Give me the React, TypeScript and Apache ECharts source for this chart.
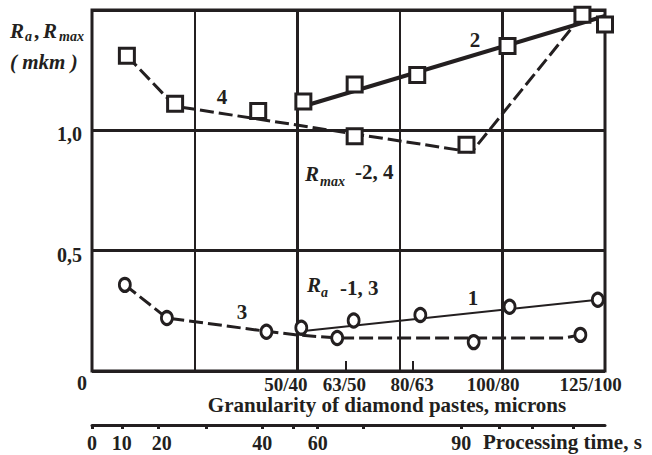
import React, { useEffect, useRef } from 'react';
import * as echarts from 'echarts';

const INK = '#231f20';
const FONT = '"Liberation Serif", "Times New Roman", serif';

// Granularity axis (position in column units, 0..5)
const granLabels = ['50/40', '63/50', '80/63', '100/80', '125/100'];
const granLabelPos = [1.89, 2.46, 3.12, 3.91, 4.86];
const granTickPos = [2.47, 3.13];

// Processing time axis
const timeLabels = ['0', '10', '20', '40', '60', '90'];
const timeLabelPos = [0, 0.29, 0.68, 1.66, 2.2, 3.6];
const timeTickPos = [0, 0.29, 0.65, 1.11, 1.66, 1.96, 2.2, 2.64, 3.6, 3.97, 4.29, 4.69];

// Curve 2 (Rmax, solid)
const curve2Line = [[2.06, 1.1], [5.0, 1.475]];
const curve2Points = [[2.06, 1.12], [2.56, 1.19], [3.17, 1.23], [4.05, 1.35], [5.0, 1.44]];
// Curve 4 (Rmax, dashed)
const curve4Line = [[0.34, 1.31], [0.81, 1.1], [3.7, 0.91], [4.78, 1.48]];
const curve4Points = [[0.34, 1.31], [0.81, 1.11], [1.62, 1.08], [2.56, 0.975], [3.65, 0.94], [4.78, 1.48]];
// Curve 1 (Ra, solid)
const curve1Line = [[2.04, 0.165], [4.93, 0.296]];
const curve1Points = [[2.04, 0.18], [2.55, 0.21], [3.2, 0.233], [4.07, 0.267], [4.93, 0.296]];
// Curve 3 (Ra, dashed)
const curve3Line = [[0.32, 0.358], [0.73, 0.22], [1.7, 0.165], [2.0, 0.15], [2.39, 0.137], [4.6, 0.137], [4.76, 0.15]];
const curve3Points = [[0.32, 0.358], [0.73, 0.22], [1.7, 0.163], [2.39, 0.137], [3.72, 0.12], [4.76, 0.15]];

const nearest = (arr: number[], v: number) =>
  arr.reduce((bi, x, i) => (Math.abs(x - v) < Math.abs(arr[bi] - v) ? i : bi), 0);

const txt = (text: string, x: number, y: number, o: any = {}) => ({
  type: 'text',
  x,
  y,
  silent: true,
  style: {
    text,
    fill: INK,
    fontFamily: FONT,
    fontWeight: 'bold',
    fontSize: o.size || 20,
    fontStyle: o.italic ? 'italic' : 'normal',
    align: o.align || 'left',
    textAlign: o.align || 'left',
    verticalAlign: 'middle',
    textVerticalAlign: 'middle',
  },
});

const markerStyle = { color: '#fff', borderColor: INK, borderWidth: 3, opacity: 1 };

const option: any = {
  animation: false,
  backgroundColor: '#fff',
  grid: [
    { left: 92, top: 10, width: 513, height: 361, show: true, borderColor: INK, borderWidth: 3, backgroundColor: 'transparent' },
    { left: 92, top: 424, width: 513, height: 1, show: false },
  ],
  xAxis: [
    {
      type: 'value', gridIndex: 0, min: 0, max: 5, interval: 1, position: 'bottom',
      axisLine: { show: false }, axisTick: { show: false }, axisLabel: { show: false },
      splitLine: { show: true, lineStyle: { color: INK, width: 2 } },
    },
    {
      type: 'value', gridIndex: 0, min: 0, max: 5, position: 'bottom',
      axisLine: { show: false, onZero: false },
      axisTick: { show: true, inside: true, length: 10, customValues: granTickPos, lineStyle: { color: INK, width: 2 } },
      splitLine: { show: false },
      axisLabel: {
        show: true, customValues: granLabelPos, margin: 4,
        color: INK, fontFamily: FONT, fontWeight: 'bold', fontSize: 19,
        formatter: (v: number) => granLabels[nearest(granLabelPos, v)],
      },
    },
    {
      type: 'value', gridIndex: 1, min: 0, max: 5, position: 'bottom',
      axisLine: { show: true, onZero: false, lineStyle: { color: INK, width: 3 } },
      axisTick: { show: true, length: 4, customValues: timeTickPos, lineStyle: { color: INK, width: 3 } },
      splitLine: { show: false },
      axisLabel: {
        show: true, customValues: timeLabelPos, margin: 8,
        color: INK, fontFamily: FONT, fontWeight: 'bold', fontSize: 20,
        formatter: (v: number) => timeLabels[nearest(timeLabelPos, v)],
      },
    },
  ],
  yAxis: [
    {
      type: 'value', gridIndex: 0, min: 0, max: 1.5, interval: 0.5,
      axisLine: { show: false }, axisTick: { show: false },
      splitLine: { show: true, lineStyle: { color: INK, width: 3 } },
      axisLabel: {
        show: true, margin: 5, color: INK, fontFamily: FONT, fontWeight: 'bold', fontSize: 20,
        formatter: (v: number) => {
          if (v === 0) return '{z|0}';
          if (v > 1.4) return '';
          return '{n|' + v.toFixed(1).replace('.', ',') + '}';
        },
        rich: {
          z: { padding: [24, 0, 0, 0], color: INK, fontFamily: FONT, fontWeight: 'bold', fontSize: 20 },
          n: { padding: [8, 5, 0, 0], color: INK, fontFamily: FONT, fontWeight: 'bold', fontSize: 20 },
        },
      },
    },
    { type: 'value', gridIndex: 1, min: 0, max: 1, show: false },
  ],
  series: [
    {
      type: 'line', name: 'curve2', data: curve2Line, symbol: 'none', z: 3,
      lineStyle: { color: INK, width: 4, type: 'solid' },
      markLine: {
        silent: true, symbol: 'none', label: { show: false },
        lineStyle: { color: INK, width: 3, type: 'solid' },
        data: [{ xAxis: 2 }, { xAxis: 4 }],
      },
    },
    {
      type: 'line', name: 'curve4', data: curve4Line, symbol: 'none', z: 3,
      lineStyle: { color: INK, width: 3, type: [14, 5] },
    },
    {
      type: 'line', name: 'curve1', data: curve1Line, symbol: 'none', z: 3,
      lineStyle: { color: INK, width: 2, type: 'solid' },
    },
    {
      type: 'line', name: 'curve3', data: curve3Line, symbol: 'none', z: 3,
      lineStyle: { color: INK, width: 3, type: [14, 5] },
    },
    {
      type: 'scatter', data: curve2Points, symbol: 'rect', symbolSize: 15, z: 5, clip: false,
      itemStyle: markerStyle,
    },
    {
      type: 'scatter', data: curve4Points, symbol: 'rect', symbolSize: 15, z: 5, clip: false,
      itemStyle: markerStyle,
    },
    {
      type: 'scatter', data: curve1Points, symbol: 'circle', symbolSize: [11, 13], z: 5, clip: false,
      itemStyle: markerStyle,
    },
    {
      type: 'scatter', data: curve3Points, symbol: 'circle', symbolSize: [11, 13], z: 5, clip: false,
      itemStyle: markerStyle,
    },
  ],
  graphic: [
    // Y axis title
    txt('R', 10, 31, { italic: true, size: 21 }),
    txt('a', 25, 36, { italic: true, size: 14 }),
    txt(',', 34, 31, { size: 21 }),
    txt('R', 43, 31, { italic: true, size: 21 }),
    txt('max', 59, 36, { italic: true, size: 14 }),
    txt('( mkm )', 10, 62, { italic: true, size: 21 }),
    // Curve numbers
    txt('4', 222, 97, { align: 'center', size: 21 }),
    txt('2', 475, 40, { align: 'center', size: 21 }),
    txt('3', 242, 312, { align: 'center', size: 21 }),
    txt('1', 473, 298, { align: 'center', size: 21 }),
    // Rmax -2, 4
    txt('R', 305, 174, { italic: true, size: 21 }),
    txt('max', 320, 181, { italic: true, size: 14 }),
    txt('-2, 4', 355, 172, { size: 21 }),
    // Ra -1, 3
    txt('R', 307, 285, { italic: true, size: 21 }),
    txt('a', 321, 292, { italic: true, size: 14 }),
    txt('-1, 3', 340, 288, { size: 21 }),
    // Axis titles
    txt('Granularity of diamond pastes, microns', 387, 405, { align: 'center', size: 21 }),
    txt('Processing time, s', 483, 442, { size: 21 }),
  ],
};

export default function App() {
  const ref = useRef<HTMLDivElement>(null);
  useEffect(() => {
    const chart = echarts.init(ref.current!, undefined, { renderer: 'svg' });
    chart.setOption(option);
    return () => chart.dispose();
  }, []);
  return (
    <div
      ref={ref}
      style={{ position: 'fixed', left: 0, top: 0, width: 652, height: 455, background: '#fff' }}
    />
  );
}
